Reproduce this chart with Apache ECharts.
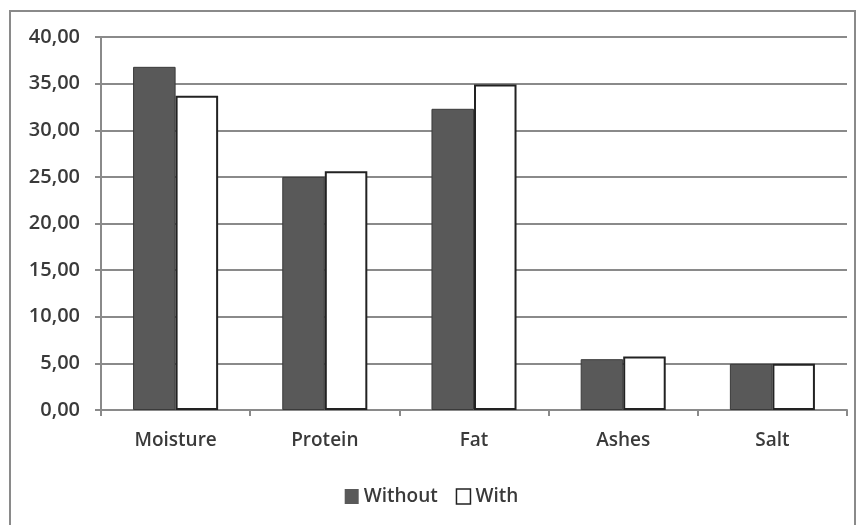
<!DOCTYPE html>
<html>
<head>
<meta charset="utf-8">
<script src="https://cdn.jsdelivr.net/npm/echarts@6/dist/echarts.min.js"></script>
<style>
  html, body { margin: 0; padding: 0; background: #fff; }
  #main { width: 863px; height: 525px; }
</style>
</head>
<body>
<div id="main"></div>
<script>
// categories and values
const categories = ['Moisture', 'Protein', 'Fat', 'Ashes', 'Salt']
const withoutValues = [36.8, 25.0, 32.3, 5.45, 4.95]
const withValues = [33.7, 25.6, 34.9, 5.75, 4.95]

const fontFamily = '"Open Sans", "Noto Sans", sans-serif'
const textColor = '#3a3a3a'

const myChart = echarts.init(document.getElementById('main'))

const option = {
  animation: false,
  backgroundColor: '#fff',
  graphic: [{
    type: 'rect',
    shape: { x: 10, y: 11, width: 845, height: 530 },
    style: { fill: 'none', stroke: '#8a8a8a', lineWidth: 2 },
    silent: true
  }],
  grid: { left: 101, right: 16, top: 37, bottom: 115 },
  legend: {
    data: [
      { name: 'Without', itemStyle: { color: '#595959', borderWidth: 0 } },
      { name: 'With', itemStyle: { color: '#fff', borderColor: '#222', borderWidth: 1.5 } }
    ],
    left: 'center',
    top: 482,
    icon: 'rect',
    itemWidth: 14,
    itemHeight: 15,
    itemGap: 18,
    textStyle: { fontFamily, fontSize: 19, fontWeight: 600, color: textColor }
  },
  xAxis: {
    type: 'category',
    data: categories,
    axisLine: { lineStyle: { color: '#8a8a8a', width: 2 } },
    axisTick: { show: true, length: 6, lineStyle: { color: '#8a8a8a', width: 2 } },
    axisLabel: { fontFamily, fontSize: 19, fontWeight: 600, color: textColor, margin: 21 }
  },
  yAxis: {
    type: 'value',
    min: 0,
    max: 40,
    interval: 5,
    axisLine: { show: true, lineStyle: { color: '#8a8a8a', width: 2 } },
    axisTick: { show: true, length: 6, lineStyle: { color: '#8a8a8a', width: 2 } },
    splitLine: { lineStyle: { color: '#8a8a8a', width: 2 } },
    axisLabel: {
      fontFamily, fontSize: 20, fontWeight: 600, color: textColor, margin: 21,
      formatter: v => v.toFixed(2).replace('.', ',')
    }
  },
  series: [{
    name: 'Without',
    type: 'bar',
    data: withoutValues,
    barGap: '0%',
    barCategoryGap: '43%',
    itemStyle: { color: '#595959', borderColor: '#3a3a3a', borderWidth: 1 }
  }, {
    name: 'With',
    type: 'bar',
    data: withValues,
    itemStyle: { color: '#fff', borderColor: '#222', borderWidth: 2 }
  }]
}

myChart.setOption(option)
</script>
</body>
</html>
